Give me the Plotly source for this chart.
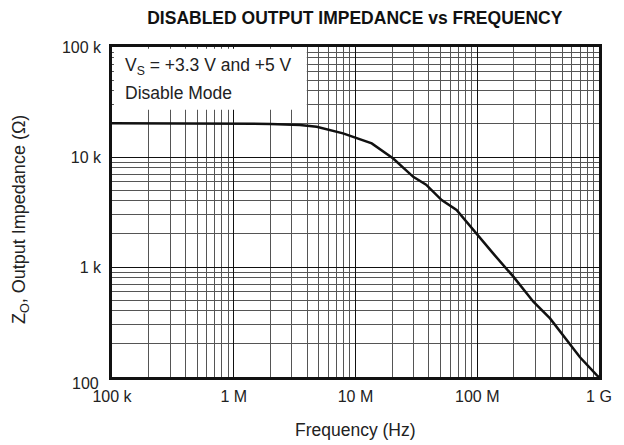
import plotly.graph_objects as go

# curve (Hz, ohm)
freq_hz = [1e5, 3e5, 1e6, 2e6, 3.5e6, 4.8e6, 7.9e6, 13.6e6, 20.4e6, 29.8e6, 38e6,
           51e6, 67.6e6, 92.7e6, 135e6, 198e6, 289e6, 396e6, 543e6, 698e6, 957e6, 1e9]
z_out = [20300, 20300, 20200, 20000, 19500, 18800, 16400, 13300, 9700, 6600, 5600,
         4060, 3300, 2170, 1330, 817, 484, 341, 217, 151, 104, 100]

x_ticks = [1e5, 1e6, 1e7, 1e8, 1e9]
x_labels = ["100 k", "1 M", "10 M", "100 M", "1 G"]
y_ticks = [100, 1e3, 1e4, 1e5]
y_labels = ["", "1 k", "10 k", "100 k"]   # "100" is drawn a bit lower, as in the source

font = "Liberation Sans, Arial, sans-serif"
txt = dict(family=font, size=16, color="#222")

fig = go.Figure()
fig.add_trace(go.Scatter(x=freq_hz, y=z_out, mode="lines",
                         line=dict(color="#111", width=2.5), showlegend=False))

axis_common = dict(
    type="log", showline=True, linecolor="#111", linewidth=2.5, mirror=True,
    ticks="", showgrid=True, gridcolor="#111", gridwidth=1,
    minor=dict(showgrid=True, gridcolor="#555", gridwidth=1, dtick="D1"),
    tickfont=txt, zeroline=False, automargin=False,
)

fig.update_xaxes(axis_common, range=[5, 9], tickvals=x_ticks, ticktext=x_labels,
                 ticklabelstandoff=3)
fig.update_yaxes(axis_common, range=[2, 5], tickvals=y_ticks, ticktext=y_labels,
                 ticklabelstandoff=5)

# axis titles as annotations so the margins stay fixed
fig.add_annotation(xref="x domain", yref="y domain", x=0.5, y=0, yshift=-53,
                   xanchor="center", yanchor="middle", text="Frequency (Hz)", showarrow=False,
                   font=dict(family=font, size=17.5, color="#222"))
fig.add_annotation(xref="x domain", yref="y domain", x=0, y=0.5, xshift=-92, yshift=-8,
                   xanchor="center", yanchor="middle", textangle=-90,
                   text="Z<sub>O</sub>, Output Impedance (Ω)", showarrow=False,
                   font=dict(family=font, size=18, color="#222"))
fig.add_annotation(xref="x domain", yref="y domain", x=0, y=0, xanchor="right", yanchor="middle",
                   xshift=-11, yshift=-6, text="100", showarrow=False, font=txt)

# white legend box over the grid in the top-left corner
fig.add_shape(type="rect", xref="x domain", yref="y domain", x0=0.004, x1=0.40, y0=0.81, y1=0.995,
              fillcolor="white", line=dict(width=0), layer="above")
fig.add_annotation(xref="x domain", yref="y domain", x=0.022, y=0.942, xanchor="left", yanchor="middle",
                   text="V<sub>S</sub> = +3.3 V and +5 V", showarrow=False,
                   font=dict(family=font, size=17.5, color="#222"))
fig.add_annotation(xref="x domain", yref="y domain", x=0.022, y=0.861, xanchor="left", yanchor="middle",
                   text="Disable Mode", showarrow=False,
                   font=dict(family=font, size=17.5, color="#222"))

# page body adds an 8 px margin, so the figure is 616x437
fig.update_layout(
    width=616, height=437,
    margin=dict(l=104, r=25, t=39, b=68),
    paper_bgcolor="white", plot_bgcolor="white",
    title=dict(text="<b>DISABLED OUTPUT IMPEDANCE vs FREQUENCY</b>", x=0.563, xanchor="center",
               y=0.978, yanchor="middle", font=dict(family=font, size=17.5, color="#111")),
)

fig.write_html("out.html")
